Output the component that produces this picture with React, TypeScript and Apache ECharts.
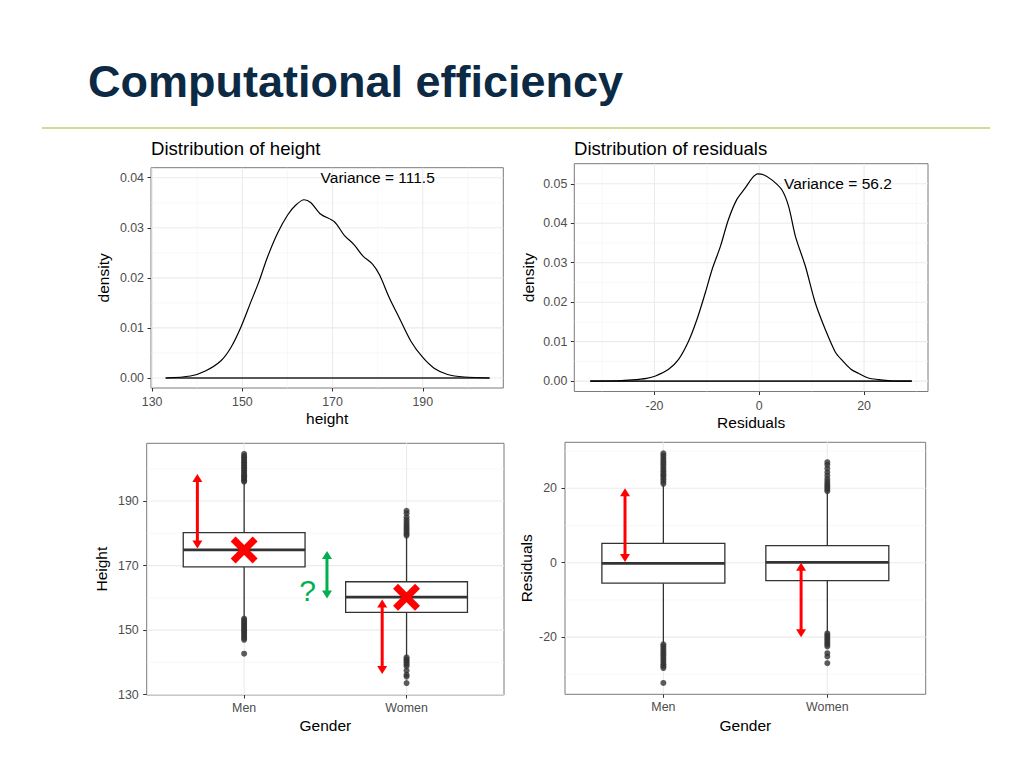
import React, { useEffect, useRef } from "react";
import * as echarts from "echarts";

const FONT = "'Liberation Sans', Arial, Helvetica, sans-serif";

// ---- Top-left: density of height ----
const heightX = [133.0, 138.5, 141.8, 145.2, 147.4, 149.6, 151.8, 153.7, 155.6, 157.8, 160.0, 161.8, 163.7, 165.2, 167.4, 170.4, 172.6, 174.8, 176.7, 178.9, 180.4, 182.6, 184.8, 187.4, 190.0, 192.6, 195.5, 199.2, 204.8];
const heightDensity = [0, 0.0004, 0.0014, 0.0034, 0.006, 0.01, 0.015, 0.0193, 0.0242, 0.0289, 0.0325, 0.0345, 0.0356, 0.035, 0.0327, 0.0312, 0.0285, 0.0266, 0.0244, 0.0227, 0.0206, 0.016, 0.012, 0.0073, 0.0041, 0.0019, 0.0007, 0.0002, 0];
const heightTicks = [130, 150, 170, 190];
const heightMinor = [140, 160, 180, 200];
const densityTicksTL = [0, 0.01, 0.02, 0.03, 0.04];
const densityMinorTL = [0.005, 0.015, 0.025, 0.035];
const varianceHeight = [180, 0.04];
const varianceHeightText = "Variance = 111.5";

// ---- Top-right: density of residuals ----
const residX = [-32.25, -27.0, -24.3, -21.5, -19.8, -17.3, -15.4, -13.5, -11.9, -10.3, -9.0, -7.4, -5.9, -4.3, -2.7, -1.4, -0.3, 0.8, 2.4, 4.3, 5.6, 6.9, 8.8, 10.7, 12.6, 14.5, 15.8, 17.5, 18.9, 20.8, 22.8, 25.0, 29.1];
const residDensity = [0, 0.0001, 0.0003, 0.0007, 0.0013, 0.003, 0.0055, 0.0101, 0.0156, 0.0224, 0.0283, 0.0342, 0.0409, 0.046, 0.0489, 0.0514, 0.0525, 0.0523, 0.051, 0.0485, 0.0443, 0.0367, 0.0291, 0.0198, 0.0131, 0.0074, 0.0053, 0.003, 0.002, 0.0008, 0.0004, 0.0001, 0];
const residTicks = [-20, 0, 20];
const residMinor = [-30, -10, 10, 30];
const densityTicksTR = [0, 0.01, 0.02, 0.03, 0.04, 0.05];
const densityMinorTR = [0.005, 0.015, 0.025, 0.035, 0.045];
const varianceResid = [15, 0.05];
const varianceResidText = "Variance = 56.2";

// ---- Bottom: boxplots by gender ----
const genders = ["Men", "Women"];
const genderPos = [1, 2];

const heightQ1 = [169.6, 155.5];
const heightMedian = [174.85, 160.2];
const heightQ3 = [180.2, 165.0];
const heightWhiskerLow = [153.9, 142.0];
const heightWhiskerHigh = [195.8, 179.0];
const menHeightOutliers = [196.0, 196.4, 196.8, 197.2, 197.6, 198.0, 198.5, 199.0, 199.5, 200.0, 200.5, 201.0, 201.5, 202.0, 202.5, 203.0, 203.5, 204.0, 204.6, 153.6, 153.1, 152.6, 152.1, 151.7, 151.2, 150.8, 150.3, 149.9, 149.4, 149.0, 148.5, 148.0, 147.5, 147.0, 142.7];
const womenHeightOutliers = [187.0, 186.2, 185.0, 184.2, 183.5, 182.8, 182.2, 181.6, 181.0, 180.4, 179.8, 179.3, 141.6, 141.0, 140.5, 140.0, 139.4, 138.8, 137.5, 136.2, 135.6, 133.6];
const heightBoxTicks = [130, 150, 170, 190];
const heightBoxMinor = [140, 160, 180, 200];

const residQ1 = [-5.5, -4.8];
const residMedian = [-0.2, 0.1];
const residQ3 = [5.2, 4.6];
const residWhiskerLow = [-21.6, -18.8];
const residWhiskerHigh = [21.0, 18.9];
const menResidOutliers = [21.2, 21.8, 22.4, 23.0, 23.5, 24.0, 24.6, 25.2, 25.8, 26.4, 27.0, 27.6, 28.2, 28.8, 29.4, -21.9, -22.5, -23.1, -23.7, -24.3, -24.9, -25.5, -26.1, -26.7, -27.3, -27.8, -28.3, -32.3];
const womenResidOutliers = [19.2, 19.7, 20.2, 20.7, 21.2, 21.8, 22.5, 23.4, 24.3, 25.3, 26.3, 27.0, -19.0, -19.5, -20.0, -20.5, -21.0, -21.5, -22.0, -22.5, -24.3, -25.2, -27.0];
const residBoxTicks = [-20, 0, 20];
const residBoxMinor = [-30, -10, 10, 30];

// annotations (data coordinates)
const heightRedArrows = [[0.712, 175.3, 198.4], [1.85, 159.5, 136.4]];
const heightGreenArrows = [[1.51, 174.5, 159.8]];
const questionMark = [[1.39, 162.3]];
const residRedArrows = [[0.766, 0.2, 20], [1.84, 0, -20]];

function gridLineData(xMajor: number[], xMinor: number[], yMajor: number[], yMinor: number[]) {
  const d: number[][] = [];
  xMinor.forEach((v) => d.push([v, 0, 0]));
  yMinor.forEach((v) => d.push([v, 1, 0]));
  xMajor.forEach((v) => d.push([v, 0, 1]));
  yMajor.forEach((v) => d.push([v, 1, 1]));
  return d;
}

function gridSeries(idx: number, data: number[][]) {
  return {
    type: "custom",
    xAxisIndex: idx,
    yAxisIndex: idx,
    z: 0,
    silent: true,
    encode: { x: 0, y: 1 },
    data,
    renderItem: (params: any, api: any) => {
      const v = api.value(0);
      const orient = api.value(1);
      const major = api.value(2);
      const cs = params.coordSys;
      let shape;
      if (orient === 0) {
        const px = api.coord([v, 0])[0];
        shape = { x1: px, y1: cs.y, x2: px, y2: cs.y + cs.height };
      } else {
        const py = api.coord([0, v])[1];
        shape = { x1: cs.x, y1: py, x2: cs.x + cs.width, y2: py };
      }
      return {
        type: "line",
        shape,
        style: { stroke: major ? "#ebebeb" : "#f4f4f4", lineWidth: major ? 1.1 : 0.6 },
      };
    },
  };
}

function textSeries(idx: number, pts: number[][], texts: string[], color: string, fontSize: number) {
  return {
    type: "custom",
    xAxisIndex: idx,
    yAxisIndex: idx,
    z: 6,
    silent: true,
    encode: { x: 0, y: 1 },
    data: pts,
    renderItem: (params: any, api: any) => {
      const p = api.coord([api.value(0), api.value(1)]);
      return {
        type: "text",
        x: p[0],
        y: p[1],
        style: {
          text: texts[params.dataIndex],
          fill: color,
          fontSize,
          fontFamily: FONT,
          align: "center",
          verticalAlign: "middle",
        },
      };
    },
  };
}

function boxSeries(idx: number, q1: number[], med: number[], q3: number[], lo: number[], hi: number[]) {
  const data = genderPos.map((g, i) => [g, q1[i], med[i], q3[i], lo[i], hi[i]]);
  return {
    type: "custom",
    xAxisIndex: idx,
    yAxisIndex: idx,
    z: 2,
    silent: true,
    encode: { x: 0, y: [1, 2, 3, 4, 5] },
    data,
    renderItem: (params: any, api: any) => {
      const x = api.value(0);
      const half = 0.375;
      const pTL = api.coord([x - half, api.value(3)]);
      const pBR = api.coord([x + half, api.value(1)]);
      const pMed = api.coord([x, api.value(2)]);
      const pLo = api.coord([x, api.value(4)]);
      const pHi = api.coord([x, api.value(5)]);
      const ls = { stroke: "#333333", lineWidth: 1.3 };
      return {
        type: "group",
        children: [
          { type: "line", shape: { x1: pMed[0], y1: pHi[1], x2: pMed[0], y2: pTL[1] }, style: ls },
          { type: "line", shape: { x1: pMed[0], y1: pBR[1], x2: pMed[0], y2: pLo[1] }, style: ls },
          {
            type: "rect",
            shape: { x: pTL[0], y: pTL[1], width: pBR[0] - pTL[0], height: pBR[1] - pTL[1] },
            style: { fill: "#ffffff", stroke: "#333333", lineWidth: 1.3 },
          },
          { type: "line", shape: { x1: pTL[0], y1: pMed[1], x2: pBR[0], y2: pMed[1] }, style: { stroke: "#333333", lineWidth: 2.7 } },
        ],
      };
    },
  };
}

function outlierSeries(idx: number, men: number[], women: number[]) {
  const data = men.map((v) => [genderPos[0], v]).concat(women.map((v) => [genderPos[1], v]));
  return {
    type: "scatter",
    xAxisIndex: idx,
    yAxisIndex: idx,
    z: 3,
    silent: true,
    symbol: "circle",
    symbolSize: 6,
    itemStyle: { color: "#333333" },
    data,
  };
}

function arrowSeries(idx: number, arrows: number[][], color: string) {
  return {
    type: "custom",
    xAxisIndex: idx,
    yAxisIndex: idx,
    z: 6,
    silent: true,
    encode: { x: 0, y: [1, 2] },
    data: arrows,
    renderItem: (params: any, api: any) => {
      const a = api.coord([api.value(0), api.value(1)]);
      const b = api.coord([api.value(0), api.value(2)]);
      const px = a[0];
      const top = Math.min(a[1], b[1]);
      const bot = Math.max(a[1], b[1]);
      const hl = 8;
      const hw = 5;
      return {
        type: "group",
        children: [
          { type: "line", shape: { x1: px, y1: top + hl - 1, x2: px, y2: bot - hl + 1 }, style: { stroke: color, lineWidth: 3 } },
          { type: "polygon", shape: { points: [[px, top], [px - hw, top + hl], [px + hw, top + hl]] }, style: { fill: color } },
          { type: "polygon", shape: { points: [[px, bot], [px - hw, bot - hl], [px + hw, bot - hl]] }, style: { fill: color } },
        ],
      };
    },
  };
}

function crossSeries(idx: number, pts: number[][]) {
  return {
    type: "custom",
    xAxisIndex: idx,
    yAxisIndex: idx,
    z: 6,
    silent: true,
    encode: { x: 0, y: 1 },
    data: pts,
    renderItem: (params: any, api: any) => {
      const p = api.coord([api.value(0), api.value(1)]);
      const s = 11;
      const st = { stroke: "#ff0000", lineWidth: 7 };
      return {
        type: "group",
        children: [
          { type: "line", shape: { x1: p[0] - s, y1: p[1] - s, x2: p[0] + s, y2: p[1] + s }, style: st },
          { type: "line", shape: { x1: p[0] - s, y1: p[1] + s, x2: p[0] + s, y2: p[1] - s }, style: st },
        ],
      };
    },
  };
}

function valueAxis(
  idx: number,
  min: number,
  max: number,
  ticks: number[],
  name: string,
  nameGap: number,
  formatter: (v: number) => string,
  labelMargin: number
) {
  return {
    type: "value",
    gridIndex: idx,
    min,
    max,
    name,
    nameLocation: "middle",
    nameGap,
    nameTextStyle: { color: "#000000", fontSize: 15.5, fontFamily: FONT },
    axisLine: { show: false, onZero: false },
    splitLine: { show: false },
    minorSplitLine: { show: false },
    axisTick: { show: true, customValues: ticks, length: 3.5, lineStyle: { color: "#333333", width: 1 } },
    axisLabel: {
      show: true,
      customValues: ticks,
      formatter,
      color: "#4d4d4d",
      fontSize: 12.4,
      fontFamily: FONT,
      margin: labelMargin,
    },
  };
}

const fmt2 = (v: number) => v.toFixed(2);
const fmt0 = (v: number) => String(Math.round(v));
const fmtGender = (v: number) => genders[Math.round(v) - 1] || "";

export default function App() {
  const ref = useRef<HTMLDivElement>(null);

  useEffect(() => {
    if (!ref.current) return;
    const chart = echarts.init(ref.current, undefined, { renderer: "svg" });

    const gridStyle = { show: true, borderColor: "#7a7a7a", borderWidth: 1, backgroundColor: "#ffffff", containLabel: false };

    const option: any = {
      animation: false,
      backgroundColor: "#ffffff",
      graphic: [
        {
          type: "text",
          x: 88,
          y: 81,
          style: {
            text: "Computational efficiency",
            fill: "#0c2a43",
            fontSize: 45,
            fontWeight: "bold",
            fontFamily: FONT,
            verticalAlign: "middle",
          },
        },
        {
          type: "line",
          shape: { x1: 42, y1: 128, x2: 990, y2: 128 },
          style: { stroke: "#d5dc92", lineWidth: 2 },
        },
        {
          type: "text",
          x: 151,
          y: 148.5,
          style: { text: "Distribution of height", fill: "#000000", fontSize: 18.6, fontFamily: FONT, verticalAlign: "middle" },
        },
        {
          type: "text",
          x: 574,
          y: 148.5,
          style: { text: "Distribution of residuals", fill: "#000000", fontSize: 18.6, fontFamily: FONT, verticalAlign: "middle" },
        },
      ],
      grid: [
        { left: 151, top: 167.7, width: 352.3, height: 220.3, ...gridStyle },
        { left: 574.3, top: 163.7, width: 353.7, height: 227.8, ...gridStyle },
        { left: 146.7, top: 443.3, width: 357.3, height: 251.7, ...gridStyle },
        { left: 565, top: 442.3, width: 360.7, height: 252, ...gridStyle },
      ],
      xAxis: [
        valueAxis(0, 129.75, 207.85, heightTicks, "height", 22, fmt0, 8),
        valueAxis(1, -35.3, 32.2, residTicks, "Residuals", 23, fmt0, 8),
        valueAxis(2, 0.4, 2.6, genderPos, "Gender", 22.5, fmtGender, 7),
        valueAxis(3, 0.4, 2.6, genderPos, "Gender", 23, fmtGender, 7),
      ],
      yAxis: [
        valueAxis(0, -0.002, 0.042, densityTicksTL, "density", 40, fmt2, 7),
        valueAxis(1, -0.00263, 0.0551, densityTicksTR, "density", 38, fmt2, 7),
        valueAxis(2, 129.9, 207.9, heightBoxTicks, "Height", 37, fmt0, 8),
        valueAxis(3, -35.35, 32.35, residBoxTicks, "Residuals", 31, fmt0, 8),
      ],
      series: [
        gridSeries(0, gridLineData(heightTicks, heightMinor, densityTicksTL, densityMinorTL)),
        gridSeries(1, gridLineData(residTicks, residMinor, densityTicksTR, densityMinorTR)),
        gridSeries(2, gridLineData(genderPos, [], heightBoxTicks, heightBoxMinor)),
        gridSeries(3, gridLineData(genderPos, [], residBoxTicks, residBoxMinor)),
        {
          type: "line",
          xAxisIndex: 0,
          yAxisIndex: 0,
          z: 2,
          silent: true,
          showSymbol: false,
          symbol: "none",
          data: [[heightX[0], 0], [heightX[heightX.length - 1], 0]],
          lineStyle: { color: "#222222", width: 1.6 },
        },
        {
          type: "line",
          xAxisIndex: 0,
          yAxisIndex: 0,
          z: 3,
          silent: true,
          showSymbol: false,
          symbol: "none",
          smooth: 0.3,
          data: heightX.map((x, i) => [x, heightDensity[i]]),
          lineStyle: { color: "#000000", width: 1.2 },
        },
        {
          type: "line",
          xAxisIndex: 1,
          yAxisIndex: 1,
          z: 2,
          silent: true,
          showSymbol: false,
          symbol: "none",
          data: [[residX[0], 0], [residX[residX.length - 1], 0]],
          lineStyle: { color: "#222222", width: 1.6 },
        },
        {
          type: "line",
          xAxisIndex: 1,
          yAxisIndex: 1,
          z: 3,
          silent: true,
          showSymbol: false,
          symbol: "none",
          smooth: 0.3,
          data: residX.map((x, i) => [x, residDensity[i]]),
          lineStyle: { color: "#000000", width: 1.2 },
        },
        textSeries(0, [varianceHeight], [varianceHeightText], "#000000", 15.5),
        textSeries(1, [varianceResid], [varianceResidText], "#000000", 15.5),
        boxSeries(2, heightQ1, heightMedian, heightQ3, heightWhiskerLow, heightWhiskerHigh),
        outlierSeries(2, menHeightOutliers, womenHeightOutliers),
        boxSeries(3, residQ1, residMedian, residQ3, residWhiskerLow, residWhiskerHigh),
        outlierSeries(3, menResidOutliers, womenResidOutliers),
        arrowSeries(2, heightRedArrows, "#ff0000"),
        arrowSeries(2, heightGreenArrows, "#00b050"),
        crossSeries(2, genderPos.map((g, i) => [g, heightMedian[i]])),
        textSeries(2, questionMark, ["?"], "#00b050", 30),
        arrowSeries(3, residRedArrows, "#ff0000"),
      ],
    };

    chart.setOption(option);
    return () => {
      chart.dispose();
    };
  }, []);

  return (
    <div
      ref={ref}
      style={{ position: "absolute", left: 0, top: 0, width: 1024, height: 768, background: "#ffffff" }}
    />
  );
}
